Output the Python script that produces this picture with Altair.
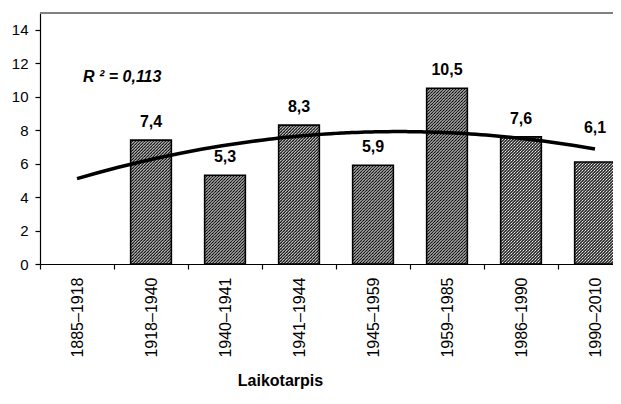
import base64
import json
import altair as alt
import pandas as pd

# ---- data ----
categories = ["1885–1918", "1918–1940", "1940–1941", "1941–1944",
              "1945–1959", "1959–1985", "1986–1990", "1990–2010"]
values = [None, 7.4, 5.3, 8.3, 5.9, 10.5, 7.6, 6.1]
y_ticks = [0, 2, 4, 6, 8, 10, 12, 14]
r2_label = "R ² = 0,113"
x_title = "Laikotarpis"
raised_label = "1990–2010"   # its value label sits higher, above the trend line

FONT = "Liberation Sans"
STEP = 74                      # pixels per category
RANGE = [0, STEP * len(categories)]
HALF_BAR = 0.275               # bar half-width, in category units

df = pd.DataFrame({"cat": categories, "val": values})

# hatch pattern as an image fill
hatch_svg = (
    "<svg xmlns='http://www.w3.org/2000/svg' width='100%' height='100%'>"
    "<defs><pattern id='h' width='3' height='3' patternUnits='userSpaceOnUse'>"
    "<rect width='3' height='3' fill='#fff'/>"
    "<path d='M-1,1 L1,-1 M0,3 L3,0 M2,4 L4,2' stroke='#000' stroke-width='1.2'/>"
    "</pattern></defs><rect width='100%' height='100%' fill='url(#h)'/></svg>"
)
hatch_url = "data:image/svg+xml;base64," + base64.b64encode(hatch_svg.encode()).decode()

label_expr = json.dumps(categories, ensure_ascii=False) + "[datum.value - 1]"

x_scale = alt.Scale(domain=[0.5, len(categories) + 0.5], nice=False, zero=False, range=RANGE)
y_scale = alt.Scale(domain=[0, 15], nice=False)

x_axis = alt.Axis(
    values=list(range(1, len(categories) + 1)), tickCount=len(categories) * 2,
    labelExpr=label_expr,
    tickOffset=-STEP / 2, labelOffset=STEP / 2,
    labelAngle=-90, labelFontSize=16, labelPadding=8, tickSize=5,
    labelOverlap=False, labelFlush=False,
    title=x_title, titleFontSize=16, titleFontWeight="bold",
    titleX=240, titleY=121, titleBaseline="alphabetic", titleAlign="center",
    domainWidth=1.2, tickWidth=1.2,
)
y_axis = alt.Axis(values=y_ticks, tickCount=len(y_ticks) * 2,
                  labelFontSize=15, labelPadding=7, tickSize=5,
                  labelOverlap=False, title=None, domainWidth=1.2, tickWidth=1.2)

base = alt.Chart(df).transform_window(idx="row_number()")
xq = alt.X("idx:Q", scale=x_scale, axis=x_axis)
yq = alt.Y("val:Q", scale=y_scale, axis=y_axis)

bars_base = base.transform_filter("isValid(datum.val)").transform_calculate(
    left=f"datum.idx - {HALF_BAR}", right=f"datum.idx + {HALF_BAR}"
)
xl = alt.X("left:Q", scale=x_scale, axis=x_axis)
x2r = alt.X2("right:Q")

bars = bars_base.mark_bar(fill="white").encode(x=xl, x2=x2r, y=yq, y2=alt.datum(0))
hatch = bars_base.mark_image(aspect=False, url=hatch_url).encode(
    x=xl, x2=x2r, y=yq, y2=alt.datum(0)
)
outline = bars_base.mark_bar(fillOpacity=0, stroke="black", strokeWidth=1.6).encode(
    x=xl, x2=x2r, y=yq, y2=alt.datum(0)
)

label_style = dict(baseline="alphabetic", fontSize=16, fontWeight="bold",
                   font=FONT, color="black")
labels = base.transform_filter(alt.datum.cat != raised_label).mark_text(
    dy=-13, **label_style
).encode(x=xq, y=yq, text=alt.Text("val:Q", format=".1f"))
labels_hi = base.transform_filter(alt.datum.cat == raised_label).mark_text(
    dy=-29, **label_style
).encode(x=xq, y=yq, text=alt.Text("val:Q", format=".1f"))

r2 = alt.Chart(pd.DataFrame({"label": [r2_label]})).mark_text(
    align="left", baseline="middle", dx=6, fontSize=16, fontWeight="bold",
    fontStyle="italic", font=FONT, color="black"
).encode(x=alt.datum(1), y=alt.datum(11.2), text="label:N")

top_border = alt.Chart(pd.DataFrame({"label": [r2_label]})).mark_rule(
    color="#808080", strokeWidth=2
).encode(y=alt.datum(15))

trend = (
    base.transform_filter("isValid(datum.val)")
    .transform_regression("idx", "val", method="poly", order=2, extent=[1, 8])
    .mark_line(color="black", strokeWidth=3.5)
    .encode(x=xq, y=yq)
)

chart = (
    alt.layer(top_border, bars, hatch, outline, trend, labels, labels_hi, r2)
    .properties(
        width=573, height=251,
        autosize=alt.AutoSizeParams(type="none"),
        padding={"left": 32, "top": 5, "right": 0, "bottom": 126},
    )
    .configure(
        font=FONT,
        locale=alt.Locale(number=alt.NumberLocale(decimal=",", thousands=" ",
                                                  grouping=[3], currency=["", ""])),
    )
    .configure_view(strokeOpacity=0)
    .configure_axis(domainColor="black", tickColor="black", labelColor="black",
                    titleColor="black", labelFont=FONT, titleFont=FONT, grid=False)
)

chart.save("out.html", embed_options={"renderer": "svg", "actions": False})
